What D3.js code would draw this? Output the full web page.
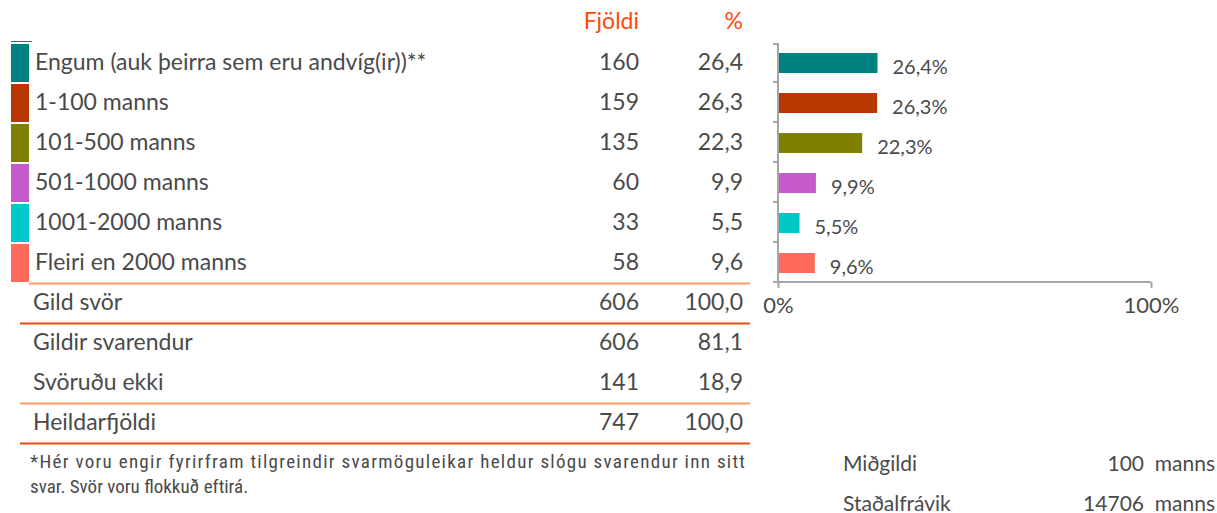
<!DOCTYPE html>
<html>
<head>
<meta charset="utf-8">
<script src="https://cdn.jsdelivr.net/npm/d3@7"></script>
<style>
    body { margin: 0; background: #fff; }
    svg { display: block; }
    .tbl { font-family: Lato, "Open Sans", sans-serif; }
    .cond { font-family: "Liberation Sans Narrow", "Roboto Condensed", Roboto, sans-serif; }
    .reg { font-family: Lato, Roboto, "Noto Sans", sans-serif; }
    text { white-space: pre; }
</style>
</head>
<body>
<div class="charts-div"></div>
<script>
// Categories and values
const categories = [
    "Engum (auk þeirra sem eru andvíg(ir))**",
    "1-100 manns",
    "101-500 manns",
    "501-1000 manns",
    "1001-2000 manns",
    "Fleiri en 2000 manns"
];
const counts = [160, 159, 135, 60, 33, 58];
const percents = [26.4, 26.3, 22.3, 9.9, 5.5, 9.6];
const colors = ["#008080", "#B83800", "#808000", "#C45BC8", "#00C8C8", "#FF6A5A"];

const summaryLabels = ["Gild svör", "Gildir svarendur", "Svöruðu ekki", "Heildarfjöldi"];
const summaryCounts = [606, 606, 141, 747];
const summaryPercents = [100.0, 81.1, 18.9, 100.0];

const headers = ["Fjöldi", "%"];
const axisTicks = [0, 100];

const footnotes = [
    "*Hér voru engir fyrirfram tilgreindir svarmöguleikar heldur slógu svarendur inn sitt",
    "svar. Svör voru flokkuð eftirá."
];

const statLabels = ["Miðgildi", "Staðalfrávik"];
const statValues = ["100  manns", "14706  manns"];

const width = 1217;
const height = 513;
const textColor = "#4a4a4a";
const headColor = "#FF4A0A";
const lightLine = "#FF9966";
const darkLine = "#F04E0C";

const fmt = (v) => v.toFixed(1).replace(".", ",");

const svg = d3.select(".charts-div").append("svg").attr("width", width).attr("height", height);

// Row positions for the table
const rowScale = d3.scaleBand().domain(categories).range([42, 282]);
const summaryScale = d3.scaleBand().domain(summaryLabels).range([282, 442]);

const countX = 639;
const pctX = 743;
const tableFont = 23;

// Header
svg.selectAll(".head")
    .data(headers)
    .join("text")
    .attr("class", "head tbl")
    .attr("x", (d, i) => (i === 0 ? countX : pctX))
    .attr("y", 20)
    .attr("text-anchor", "end")
    .attr("dominant-baseline", "central")
    .attr("font-size", tableFont)
    .attr("fill", headColor)
    .text((d) => d);

// Colour blocks
svg.append("line")
    .attr("x1", 11).attr("x2", 32).attr("y1", 41.5).attr("y2", 41.5)
    .attr("stroke", colors[0]).attr("stroke-width", 1);

svg.selectAll(".swatch")
    .data(categories)
    .join("rect")
    .attr("class", "swatch")
    .attr("x", 11)
    .attr("y", (d) => rowScale(d) + 2)
    .attr("width", 18)
    .attr("height", rowScale.bandwidth() - 2)
    .attr("fill", (d, i) => colors[i]);

const rows = svg.selectAll(".row").data(categories).join("g").attr("class", "row tbl")
    .attr("transform", (d) => `translate(0,${rowScale(d) + rowScale.bandwidth() / 2 - 1})`)
    .attr("font-size", tableFont)
    .attr("fill", textColor);
rows.append("text").attr("x", 35).attr("dominant-baseline", "central").text((d) => d);
rows.append("text").attr("x", countX).attr("text-anchor", "end").attr("dominant-baseline", "central").text((d, i) => counts[i]);
rows.append("text").attr("x", pctX).attr("text-anchor", "end").attr("dominant-baseline", "central").text((d, i) => fmt(percents[i]));

// Summary rows
const srows = svg.selectAll(".srow").data(summaryLabels).join("g").attr("class", "srow tbl")
    .attr("transform", (d) => `translate(0,${summaryScale(d) + summaryScale.bandwidth() / 2 - 1})`)
    .attr("font-size", tableFont)
    .attr("fill", textColor);
srows.append("text").attr("x", 33).attr("dominant-baseline", "central").text((d) => d);
srows.append("text").attr("x", countX).attr("text-anchor", "end").attr("dominant-baseline", "central").text((d, i) => summaryCounts[i]);
srows.append("text").attr("x", pctX).attr("text-anchor", "end").attr("dominant-baseline", "central").text((d, i) => fmt(summaryPercents[i]));

// Separator lines
const separators = [
    { y: 283.5, x1: 29, color: lightLine },
    { y: 323.5, x1: 20, color: darkLine },
    { y: 403.5, x1: 20, color: lightLine },
    { y: 443.5, x1: 20, color: darkLine }
];
svg.selectAll(".sep")
    .data(separators)
    .join("line")
    .attr("class", "sep")
    .attr("x1", (d) => d.x1)
    .attr("x2", 750)
    .attr("y1", (d) => d.y)
    .attr("y2", (d) => d.y)
    .attr("stroke", (d) => d.color)
    .attr("stroke-width", 2);

// Footnotes
svg.selectAll(".foot")
    .data(footnotes)
    .join("text")
    .attr("class", "foot cond")
    .attr("x", 30)
    .attr("y", (d, i) => 461 + i * 25)
    .attr("dominant-baseline", "central")
    .attr("font-size", 19)
    .attr("fill", textColor)
    .each(function (d, i) {
        if (i === 0) d3.select(this).attr("textLength", 715).attr("lengthAdjust", "spacing");
    })
    .text((d) => d);

// Bar chart
const xScale = d3.scaleLinear().domain([0, 100]).range([778, 1151]);
const yScale = d3.scaleBand().domain(categories).range([42, 282]);
const axisColor = "#A6A6A6";

const g = svg.append("g");

g.selectAll(".bar")
    .data(categories)
    .join("rect")
    .attr("class", "bar")
    .attr("x", xScale(0) + 1)
    .attr("y", (d) => yScale(d) + yScale.bandwidth() / 2 - 9)
    .attr("width", (d, i) => xScale(percents[i]) - xScale(0))
    .attr("height", 20)
    .attr("fill", (d, i) => colors[i]);

g.selectAll(".bar-label")
    .data(categories)
    .join("text")
    .attr("class", "bar-label reg")
    .attr("x", (d, i) => xScale(percents[i]) + 16)
    .attr("y", (d) => yScale(d) + yScale.bandwidth() / 2 + 4)
    .attr("dominant-baseline", "central")
    .attr("font-size", 20)
    .attr("fill", textColor)
    .text((d, i) => fmt(percents[i]) + "%");

// y axis with ticks at category boundaries
const yAxisG = g.append("g").attr("transform", `translate(${xScale(0)},0)`);
yAxisG.append("line").attr("x1", 0).attr("x2", 0).attr("y1", 43).attr("y2", 283)
    .attr("stroke", axisColor).attr("stroke-width", 2);
yAxisG.selectAll(".ytick")
    .data([...categories.map((d) => yScale(d)), 282])
    .join("line")
    .attr("class", "ytick")
    .attr("x1", -5).attr("x2", 0)
    .attr("y1", (d, i) => (i === 0 ? 44 : d))
    .attr("y2", (d, i) => (i === 0 ? 44 : d))
    .attr("stroke", axisColor).attr("stroke-width", 2);

// x axis
const xAxis = d3.axisBottom(xScale).tickValues(axisTicks).tickSize(6).tickFormat((d) => d + "%");
const xAxisG = g.append("g").attr("transform", "translate(0,282)").call(xAxis);
xAxisG.select(".domain").attr("stroke", axisColor).attr("stroke-width", 2).attr("d", `M${xScale(0)},0H${xScale(100)}`);
xAxisG.selectAll(".tick line").attr("stroke", axisColor).attr("stroke-width", 2);
xAxisG.selectAll(".tick text")
    .attr("class", "reg")
    .attr("font-size", 22)
    .attr("font-family", "Lato, Roboto, sans-serif")
    .attr("fill", textColor)
    .attr("y", 23)
    .attr("dy", "0.35em");

// Statistics
const stats = svg.selectAll(".stat").data(statLabels).join("g").attr("class", "stat reg")
    .attr("transform", (d, i) => `translate(0,${462 + i * 40})`)
    .attr("font-size", 21)
    .attr("fill", textColor);
stats.append("text").attr("x", 843).attr("dominant-baseline", "central").text((d) => d);
stats.append("text").attr("x", 1215).attr("text-anchor", "end").attr("dominant-baseline", "central")
    .text((d, i) => statValues[i]);
</script>
</body>
</html>
